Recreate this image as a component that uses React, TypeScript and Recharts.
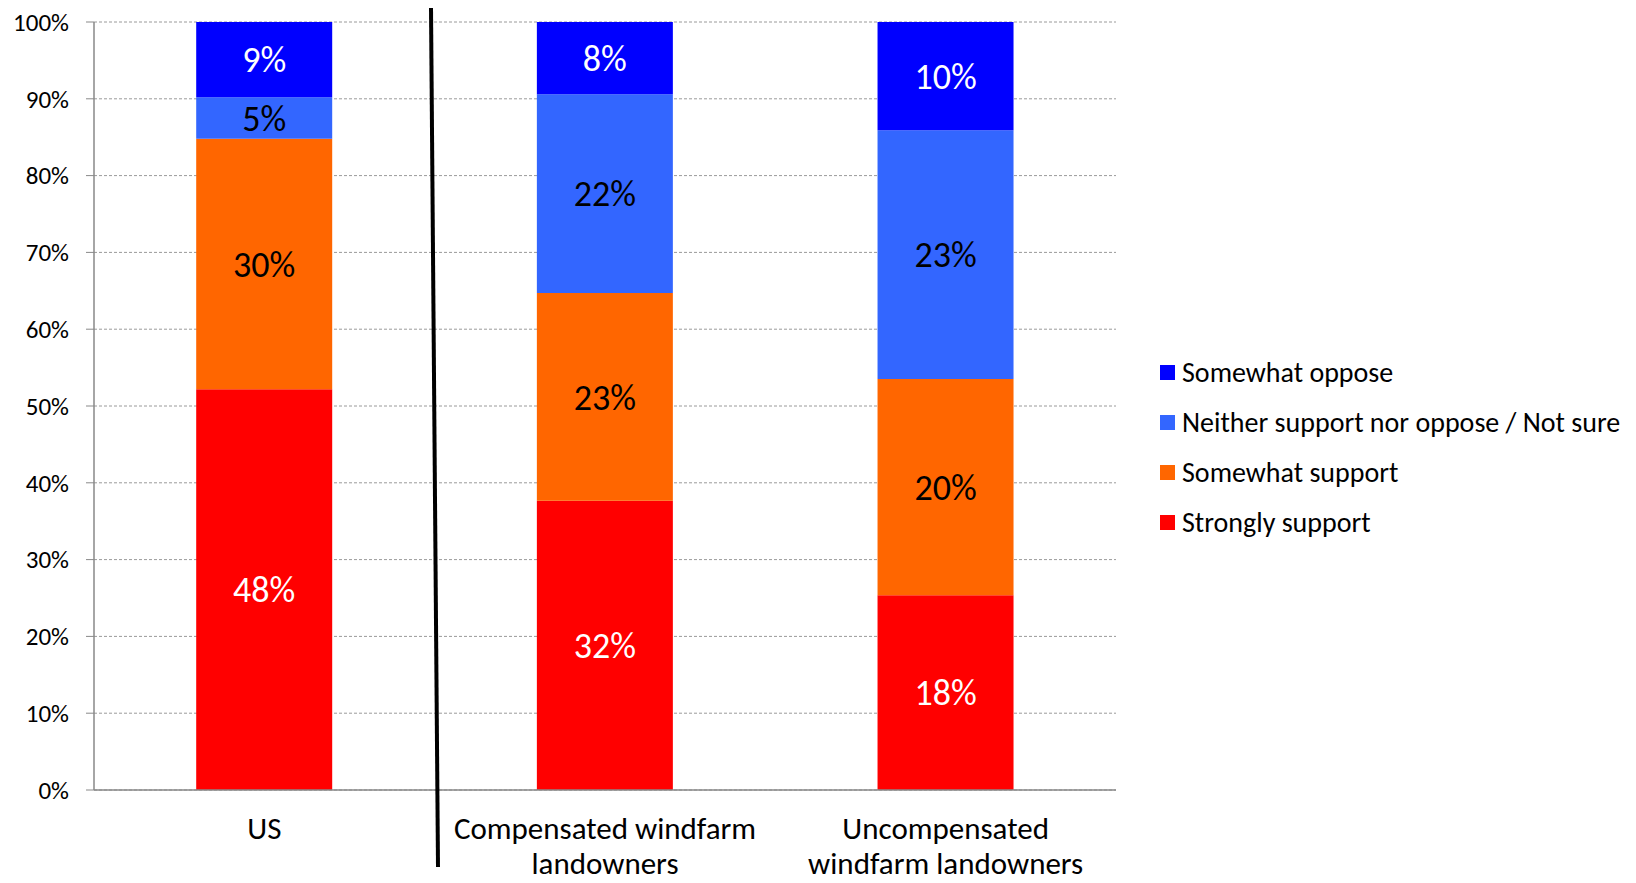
import React from 'react'
import {
  BarChart,
  Bar,
  XAxis,
  YAxis,
  CartesianGrid,
  LabelList,
} from 'recharts'

const groups = ['US', 'Compensated windfarm landowners', 'Uncompensated windfarm landowners']
const groupLines = [['US'], ['Compensated windfarm', 'landowners'], ['Uncompensated', 'windfarm landowners']]

const strongly = [48, 32, 18]
const somewhat = [30, 23, 20]
const neither = [5, 22, 23]
const oppose = [9, 8, 10]

const yTicks = [0, 0.1, 0.2, 0.3, 0.4, 0.5, 0.6, 0.7, 0.8, 0.9, 1]

const series = [
  { key: 'strongly', name: 'Strongly support', color: '#FF0000', label: '#FFFFFF' },
  { key: 'somewhat', name: 'Somewhat support', color: '#FF6600', label: '#000000' },
  { key: 'neither', name: 'Neither support nor oppose / Not sure', color: '#3366FF', label: '#000000' },
  { key: 'oppose', name: 'Somewhat oppose', color: '#0000FF', label: '#FFFFFF' },
]

const data = groups.map((g, i) => ({
  group: g,
  strongly: strongly[i],
  somewhat: somewhat[i],
  neither: neither[i],
  oppose: oppose[i],
}))

const FONT = 'Carlito, Lato, sans-serif'

const GroupTick = (props: any) => {
  const { x, y, payload } = props
  const lines = groupLines[payload.index] || [payload.value]
  return (
    <text x={x} y={y} textAnchor="middle" fontFamily={FONT} fontSize={31} fill="#000">
      {lines.map((l, i) => (
        <tspan key={i} x={x} y={y + 41 + i * 35}>
          {l}
        </tspan>
      ))}
    </text>
  )
}

// legend drawn as plain html so it does not eat plot space
const LegendBox = () => (
  <div
    style={{
      position: 'absolute',
      left: 1160,
      top: 347,
      fontFamily: FONT,
      fontSize: 28,
      color: '#000',
    }}
  >
    {[...series].reverse().map((s) => (
      <div key={s.key} style={{ display: 'flex', alignItems: 'center', height: 50 }}>
        <span style={{ width: 15, height: 15, background: s.color, marginRight: 7, display: 'inline-block' }} />
        <span>{s.name}</span>
      </div>
    ))}
  </div>
)

export default function App() {
  return (
    <div style={{ position: 'relative', margin: -8, width: 1636, height: 883, background: '#fff' }}>
      <BarChart
        width={1636}
        height={883}
        data={data}
        stackOffset="expand"
        barCategoryGap="30%"
        margin={{ top: 22, right: 520, bottom: 0, left: 0 }}
        style={{ overflow: 'visible' }}
      >
        <CartesianGrid vertical={false} stroke="#9a9a9a" strokeDasharray="3 2" />
        <XAxis
          xAxisId="edges"
          type="number"
          domain={[0, 3]}
          ticks={[0, 1, 2, 3]}
          allowDataOverflow
          tick={false}
          tickSize={10}
          tickLine={{ stroke: '#898989' }}
          axisLine={false}
          height={0}
        />
        <XAxis
          dataKey="group"
          tick={<GroupTick />}
          tickLine={false}
          axisLine={{ stroke: '#898989', strokeWidth: 1.5 }}
          height={93}
          interval={0}
        />
        <YAxis
          domain={[0, 1]}
          ticks={yTicks}
          tickFormatter={(v: number) => `${Math.round(v * 100)}%`}
          width={94}
          tickSize={8}
          tickMargin={17}
          tick={{ fontFamily: FONT, fontSize: 25, fill: '#000' }}
          tickLine={{ stroke: '#898989' }}
          axisLine={{ stroke: '#898989', strokeWidth: 1.5 }}
          interval={0}
        />
        {series.map((s) => (
          <Bar key={s.key} dataKey={s.key} name={s.name} stackId="a" fill={s.color} isAnimationActive={false}>
            <LabelList
              dataKey={s.key}
              position="center"
              formatter={(v: any) => `${v}%`}
              fill={s.label}
              style={{ fontFamily: FONT, fontSize: 36 }}
            />
          </Bar>
        ))}
      </BarChart>
      <LegendBox />
      <svg
        width={1636}
        height={883}
        style={{ position: 'absolute', left: 0, top: 0, pointerEvents: 'none' }}
      >
        <line x1={431} y1={8} x2={438} y2={867} stroke="#000" strokeWidth={4} />
      </svg>
    </div>
  )
}
